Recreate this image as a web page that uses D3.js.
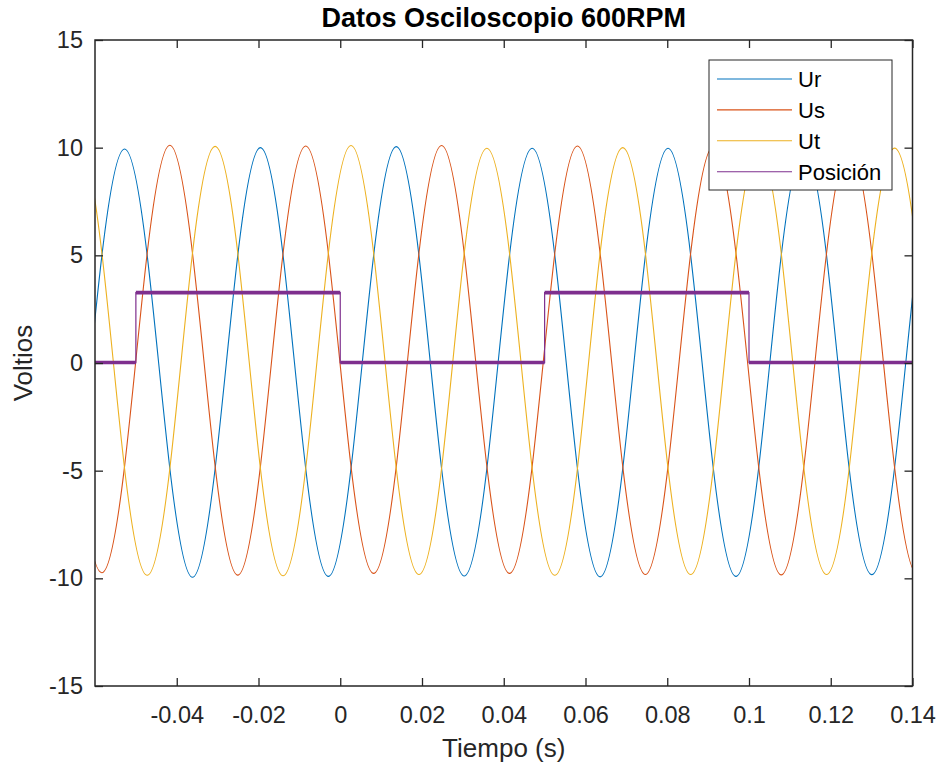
<!DOCTYPE html>
<html>
<head>
<meta charset="utf-8">
<script src="https://cdn.jsdelivr.net/npm/d3@7"></script>
<style>
  html, body { margin: 0; padding: 0; background: #fff; }
  svg { display: block; font-family: "Liberation Sans", Arial, Helvetica, sans-serif; }
</style>
</head>
<body>
<svg id="chart" width="941" height="769"></svg>
<script>
// Muestras de las tres fases (s, V)
const tiempo = [
  -0.07493, -0.06939, -0.06385, -0.05831, -0.05277, -0.04723, -0.04169,
  -0.03615, -0.03061, -0.02507, -0.01953, -0.01399, -0.00845, -0.00291,
   0.00263,  0.00817,  0.01371,  0.01925,  0.02479,  0.03033,  0.03587,
   0.04141,  0.04695,  0.05249,  0.05803,  0.06357,  0.06911,  0.07465,
   0.08019,  0.08573,  0.09127,  0.09681,  0.10235,  0.10789,  0.11343,
   0.11897,  0.12451,  0.13005,  0.13559,  0.14113,  0.14667,  0.15221
];
const ur = [
  -4.9, -9.90, -4.9, 5.0,  9.94, 5.0, -4.9,
  -9.95, -4.9, 5.0, 10.00, 5.0, -4.9, -9.91,
  -4.9, 5.0, 10.05, 5.0, -4.9, -9.89, -4.9,
   5.0, 9.97, 5.0, -4.9, -9.93, -4.9, 5.0,
   9.97, 5.0, -4.9, -9.91, -4.9, 5.0, 9.95,
   5.0, -4.9, -9.83, -4.9, 5.0, 9.95, 5.0
];
const us = [
  10.10, 5.1, -4.8, -9.74, -4.8, 5.1, 10.11,
   5.1, -4.8, -9.85, -4.8, 5.1, 10.08, 5.1,
  -4.8, -9.77, -4.8, 5.1, 10.10, 5.1, -4.8,
  -9.77, -4.8, 5.1, 10.08, 5.1, -4.8, -9.82,
  -4.8, 5.1, 10.05, 5.1, -4.8, -9.84, -4.8,
   5.1, 10.10, 5.1, -4.8, -9.78, -4.8, 5.1
];
const ut = [
  -4.9, 5.1, 10.05, 5.1, -4.9, -9.86, -4.9,
   5.1, 10.06, 5.1, -4.9, -9.88, -4.9, 5.1,
  10.10, 5.1, -4.9, -9.82, -4.9, 5.1, 9.97,
   5.1, -4.9, -9.86, -4.9, 5.1, 10.00, 5.1,
  -4.9, -9.82, -4.9, 5.1, 10.00, 5.1, -4.9,
  -9.82, -4.9, 5.1, 9.98, 5.1, -4.9, -9.85
];

// Señal de posición (escalones)
const tiempoPos = [-0.06, -0.05, 0.0, 0.05, 0.10, 0.14];
const posicion  = [0.02, 3.27, 0.02, 3.27, 0.02, 0.02];

// Ejes
const ticksX = [-0.04, -0.02, 0, 0.02, 0.04, 0.06, 0.08, 0.10, 0.12, 0.14];
const etiquetasX = ["-0.04", "-0.02", "0", "0.02", "0.04", "0.06", "0.08", "0.1", "0.12", "0.14"];
const ticksY = [-15, -10, -5, 0, 5, 10, 15];
const etiquetasY = ["-15", "-10", "-5", "0", "5", "10", "15"];

const series = [
  { nombre: "Ur", valores: ur, color: "#0072BD" },
  { nombre: "Us", valores: us, color: "#D95319" },
  { nombre: "Ut", valores: ut, color: "#EDB120" }
];
const colorPos = "#7E2F8E";

const svg = d3.select("#chart");
const L = 95, R = 912.5, T = 40, B = 686;
const x = d3.scaleLinear().domain([-0.06, 0.14]).range([L, R]);
const y = d3.scaleLinear().domain([-15, 15]).range([B, T]);
const ink = "#262626";

svg.append("defs").append("clipPath").attr("id", "area")
  .append("rect").attr("x", L).attr("y", T).attr("width", R - L).attr("height", B - T);

const datos = svg.append("g").attr("clip-path", "url(#area)");

const linea = d3.line()
  .x(d => x(d[0]))
  .y(d => y(d[1]))
  .curve(d3.curveNatural);

series.forEach(s => {
  datos.append("path")
    .datum(tiempo.map((t, i) => [t, s.valores[i]]))
    .attr("fill", "none")
    .attr("stroke", s.color)
    .attr("stroke-width", 1.1)
    .attr("d", linea);
});

// Posición: trazo fino del escalón y banda de ruido en los niveles
const puntosPos = tiempoPos.map((t, i) => [t, posicion[i]]);
datos.append("path")
  .datum(puntosPos)
  .attr("fill", "none")
  .attr("stroke", colorPos)
  .attr("stroke-width", 1.2)
  .attr("d", d3.line().x(d => x(d[0])).y(d => y(d[1])).curve(d3.curveStepAfter));
datos.append("g").selectAll("line")
  .data(puntosPos.slice(0, -1))
  .join("line")
  .attr("x1", d => x(d[0]))
  .attr("x2", (d, i) => x(puntosPos[i + 1][0]))
  .attr("y1", d => y(d[1]))
  .attr("y2", d => y(d[1]))
  .attr("stroke", colorPos)
  .attr("stroke-width", 3.6);

// Ejes y marco
function estilo(g) {
  g.select(".domain").remove();
  g.selectAll(".tick line").attr("stroke", ink).attr("stroke-width", 1.3);
  g.selectAll(".tick text").attr("fill", ink).style("font-size", "23.5px")
    .style("font-family", "'Liberation Sans', Arial, Helvetica, sans-serif");
}

svg.append("g").attr("transform", `translate(0,${B})`)
  .call(d3.axisBottom(x).tickValues(ticksX).tickFormat((d, i) => etiquetasX[i])
    .tickSizeInner(-8).tickSizeOuter(0).tickPadding(20))
  .call(estilo);
svg.append("g").attr("transform", `translate(0,${T})`)
  .call(d3.axisTop(x).tickValues(ticksX).tickFormat("").tickSizeInner(-8).tickSizeOuter(0))
  .call(estilo);
svg.append("g").attr("transform", `translate(${L},0)`)
  .call(d3.axisLeft(y).tickValues(ticksY).tickFormat((d, i) => etiquetasY[i])
    .tickSizeInner(-8).tickSizeOuter(0).tickPadding(12))
  .call(estilo);
svg.append("g").attr("transform", `translate(${R},0)`)
  .call(d3.axisRight(y).tickValues(ticksY).tickFormat("").tickSizeInner(-8).tickSizeOuter(0))
  .call(estilo);

svg.append("rect")
  .attr("x", L).attr("y", T).attr("width", R - L).attr("height", B - T)
  .attr("fill", "none").attr("stroke", ink).attr("stroke-width", 1.5);

// Títulos
svg.append("text")
  .attr("x", (L + R) / 2).attr("y", 27)
  .attr("text-anchor", "middle")
  .style("font-size", "27px").style("font-weight", "bold")
  .attr("fill", "#000")
  .text("Datos Osciloscopio 600RPM");

svg.append("text")
  .attr("x", (L + R) / 2).attr("y", 757)
  .attr("text-anchor", "middle")
  .style("font-size", "26px")
  .attr("fill", ink)
  .text("Tiempo (s)");

svg.append("text")
  .attr("transform", `translate(32,${(T + B) / 2}) rotate(-90)`)
  .attr("text-anchor", "middle")
  .style("font-size", "26px")
  .attr("fill", ink)
  .text("Voltios");

// Leyenda
const leyenda = [
  { nombre: "Ur", color: series[0].color },
  { nombre: "Us", color: series[1].color },
  { nombre: "Ut", color: series[2].color },
  { nombre: "Posición", color: colorPos }
];
const lg = svg.append("g").attr("transform", "translate(709,60)");
lg.append("rect").attr("width", 183).attr("height", 130)
  .attr("fill", "#fff").attr("stroke", ink).attr("stroke-width", 1);
const filas = lg.selectAll("g.fila").data(leyenda).join("g")
  .attr("class", "fila")
  .attr("transform", (d, i) => `translate(0,${19 + i * 30.9})`);
filas.append("line").attr("x1", 8).attr("x2", 83).attr("y1", 0).attr("y2", 0)
  .attr("stroke", d => d.color).attr("stroke-width", 1.1);
filas.append("text").attr("x", 89).attr("y", 8)
  .style("font-size", "22px").attr("fill", "#000")
  .text(d => d.nombre);
</script>
</body>
</html>
